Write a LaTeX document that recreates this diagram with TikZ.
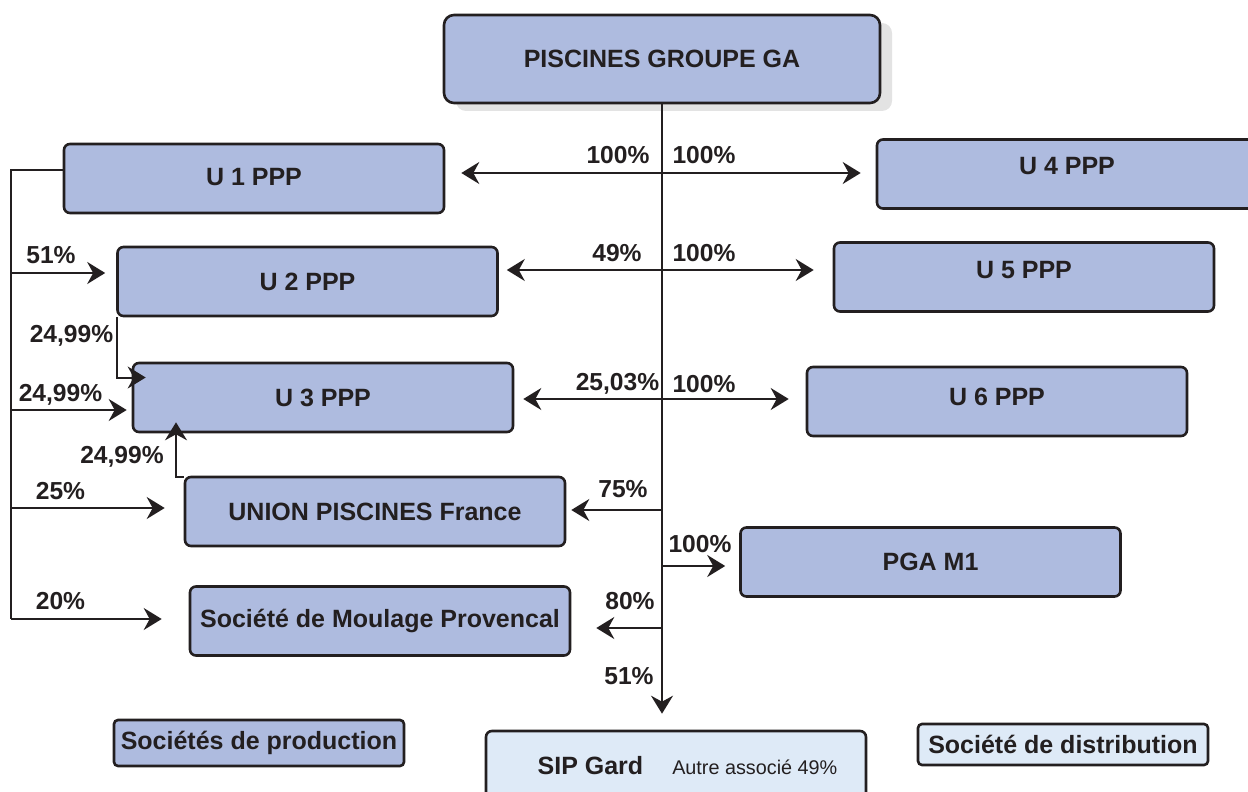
\documentclass[tikz,border=0pt]{standalone}
\usepackage{fontspec}
\setmainfont{Liberation Sans}
\usetikzlibrary{arrows.meta,shadows}
\definecolor{boxblue}{RGB}{174,187,223}
\definecolor{boxpale}{RGB}{222,234,247}
\definecolor{ink}{RGB}{35,31,32}
\tikzset{
  societe/.style={draw=ink, fill=boxblue, line width=1.3pt, rounded corners=3pt,
    minimum width=190pt, minimum height=34.5pt, inner sep=2pt, text=ink,
    font=\fontsize{12.5}{15}\selectfont\bfseries},
  legende/.style={societe, minimum width=145pt, rounded corners=2pt},
  lien/.style={draw=ink, line width=1pt},
  pct/.style={text=ink, inner sep=0pt, font=\fontsize{12.3}{14}\selectfont\bfseries},
}
\begin{document}
\begin{tikzpicture}[x=0.5pt, y=-0.5pt, >={Stealth[length=9pt,width=11pt,inset=3pt]}]
  \useasboundingbox (0,0) rectangle (1248,792);

  % 1. societes (boites)
  \node[societe, minimum width=218pt, minimum height=44pt, rounded corners=5pt,
    drop shadow={shadow xshift=6pt, shadow yshift=-4pt, fill=black!11, opacity=1}]
    (ga) at (662,59) {PISCINES GROUPE GA};
  \node[societe, text depth=2pt] (u1) at (254,178.5) {U 1 PPP};
  \node[societe] (u2) at (307.5,281.5) {U 2 PPP};
  \node[societe] (u3) at (323,397.5) {U 3 PPP};
  \node[societe] (upf) at (375,511.5) {UNION PISCINES France};
  \node[societe] (smp) at (380,621) {Société de Moulage Provencal};
  \node[societe, text depth=8pt] (u4) at (1067,174) {U 4 PPP};
  \node[societe, text depth=7pt] (u5) at (1024,277) {U 5 PPP};
  \node[societe, text depth=4.5pt] (u6) at (997,401.5) {U 6 PPP};
  \node[societe] (pga) at (930.5,562) {PGA M1};
  \node[societe, fill=boxpale] (sip) at (676,765.5)
    {\hspace*{11.5pt}SIP Gard\hspace{14.5pt}{\mdseries\fontsize{9.9}{12}\selectfont Autre associé 49\%}};

  % 2. legende
  \node[legende, minimum height=23pt] (legprod) at (259,743) {Sociétés de production};
  \node[legende, fill=boxpale, minimum height=20.5pt] (legdist) at (1063,744.5) {Société de distribution};

  % 3. tronc central et participations
  \coordinate (t1) at (661,173);
  \coordinate (t2) at (661,270);
  \coordinate (t3) at (661,399);
  \coordinate (t4) at (661,510);
  \coordinate (t5) at (661,566);
  \coordinate (t6) at (661,628);
  \draw[lien, ->, shorten >=8pt] (ga.south) -- (ga.south |- sip.north);
  \draw[lien, <->, shorten <=8pt, shorten >=7.5pt] (t1 -| u1.east) -- (t1 -| u4.west);
  \draw[lien, <->, shorten <=4pt, shorten >=9.5pt] (t2 -| u2.east) -- (t2 -| u5.west);
  \draw[lien, <->, shorten <=4.5pt, shorten >=8.5pt] (t3 -| u3.east) -- (t3 -| u6.west);
  \draw[lien, ->, shorten >=2.5pt] (t4) -- (t4 -| upf.east);
  \draw[lien, ->, shorten >=7pt] (t5) -- (t5 -| pga.west);
  \draw[lien, ->, shorten >=12.5pt] (t6) -- (t6 -| smp.east);

  % 4. branche gauche (U 1 PPP)
  \coordinate (g0) at (11,170);
  \coordinate (g1) at (11,273);
  \coordinate (g2) at (11,410);
  \coordinate (g3) at (11,508);
  \coordinate (g4) at (11,619);
  \draw[lien] (u1.west |- g0) -- (g0) -- (g4);
  \draw[lien, ->, shorten >=5.5pt] (g1) -- (g1 -| u2.west);
  \draw[lien, ->, shorten >=2.5pt] (g2) -- (g2 -| u3.west);
  \draw[lien, ->, shorten >=9.5pt] (g3) -- (g3 -| upf.west);
  \draw[lien, ->, shorten >=13.5pt] (g4) -- (g4 -| smp.west);
  \draw[lien, ->] ([xshift=0.5pt]u2.south west) |- ([xshift=7pt, yshift=10pt]u3.west);
  \draw[lien, ->] ([yshift=-0.5pt]upf.north west) -| ([xshift=-73.5pt, yshift=5.5pt]u3.south);

  % 5. pourcentages
  \node[pct] (p1a) at (618,155) {100\%};
  \node[pct] (p1b) at (704,155) {100\%};
  \node[pct] (p2a) at (617,253) {49\%};
  \node[pct] (p2b) at (704,253) {100\%};
  \node[pct] (p3a) at (617.5,384) {25,03\%};
  \node[pct] (p3b) at (704,384) {100\%};
  \node[pct] (p4) at (623,489) {75\%};
  \node[pct] (p5) at (700,544) {100\%};
  \node[pct] (p6) at (630,601) {80\%};
  \node[pct] (p7) at (629,676) {51\%};
  \node[pct] (q1) at (51,255.5) {51\%};
  \node[pct] (q2) at (71.5,336) {24,99\%};
  \node[pct] (q3) at (60.5,394.5) {24,99\%};
  \node[pct] (q4) at (122,456.5) {24,99\%};
  \node[pct] (q5) at (60.5,491) {25\%};
  \node[pct] (q6) at (60.5,601) {20\%};
\end{tikzpicture}
\end{document}
